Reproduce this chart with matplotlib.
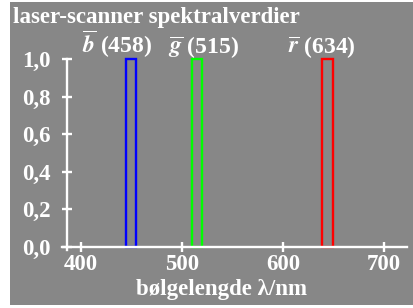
import matplotlib
matplotlib.use('Agg')
import matplotlib.pyplot as plt
from matplotlib.patches import Rectangle

# spectral bands of the laser scanner
names = [r'$\overline{b}$', r'$\overline{g}$', r'$\overline{r}$']
peaks = [458, 515, 634]
band_left = [444, 510, 639]
band_width = [10, 10, 10]
band_height = [1.0, 1.0, 1.0]
colors = ['#0000ff', '#00ff00', '#ff0000']
label_x = [436, 521, 638]

xticks = [400, 500, 600, 700]
yticks = [0.0, 0.2, 0.4, 0.6, 0.8, 1.0]
ytick_labels = ['0,0', '0,2', '0,4', '0,6', '0,8', '1,0']

bg = '#878787'
fg = 'white'
plt.rcParams['font.family'] = 'Liberation Serif'
plt.rcParams['font.weight'] = 'bold'
plt.rcParams['mathtext.fontset'] = 'stix'

W, H = 413, 308
fig = plt.figure(figsize=(W / 100, H / 100), dpi=100, facecolor='white')
fig.patches.append(Rectangle((10 / W, 3 / H), 403 / W, 303 / H,
                             transform=fig.transFigure, facecolor=bg,
                             edgecolor='none', zorder=-10))

ax = fig.add_axes([50 / W, 48 / H, 360 / W, 220 / H])
ax.set_facecolor('none')
ax.set_xlim(369.0, 725.8)
ax.set_ylim(-0.071, 1.103)

lw = 1.7
ax.bar(band_left, band_height, width=band_width, align='edge',
       fill=False, edgecolor=colors, linewidth=lw, zorder=3)

for name, p, lx in zip(names, peaks, label_x):
    ax.text(lx, 1.035, name + ' (%d)' % p, ha='center', va='baseline',
            fontsize=17, color=fg, fontweight='bold')

for side in ['top', 'right']:
    ax.spines[side].set_visible(False)
ax.spines['left'].set_position(('data', 385.5))
ax.spines['left'].set_bounds(-0.018, 1.0)
ax.spines['bottom'].set_position(('data', 0))
ax.spines['bottom'].set_bounds(380.9, 722.5)
for side in ['left', 'bottom']:
    ax.spines[side].set_color(fg)
    ax.spines[side].set_linewidth(lw)
    ax.spines[side].set_zorder(4)

ax.set_xticks(xticks)
ax.set_yticks(yticks)
ax.set_yticklabels(ytick_labels)
ax.tick_params(direction='inout', length=7.2, width=lw, color=fg,
               labelcolor=fg, labelsize=16.5, pad=2)
ax.tick_params(axis='y', pad=8)

fig.text(13 / W, (H - 23) / H, 'laser-scanner spektralverdier',
         ha='left', va='baseline', fontsize=16.5, color=fg, fontweight='bold')
fig.text(222 / W, (H - 295) / H, 'bølgelengde λ/nm',
         ha='center', va='baseline', fontsize=16.5, color=fg, fontweight='bold')

fig.savefig('out.png', dpi=100)
